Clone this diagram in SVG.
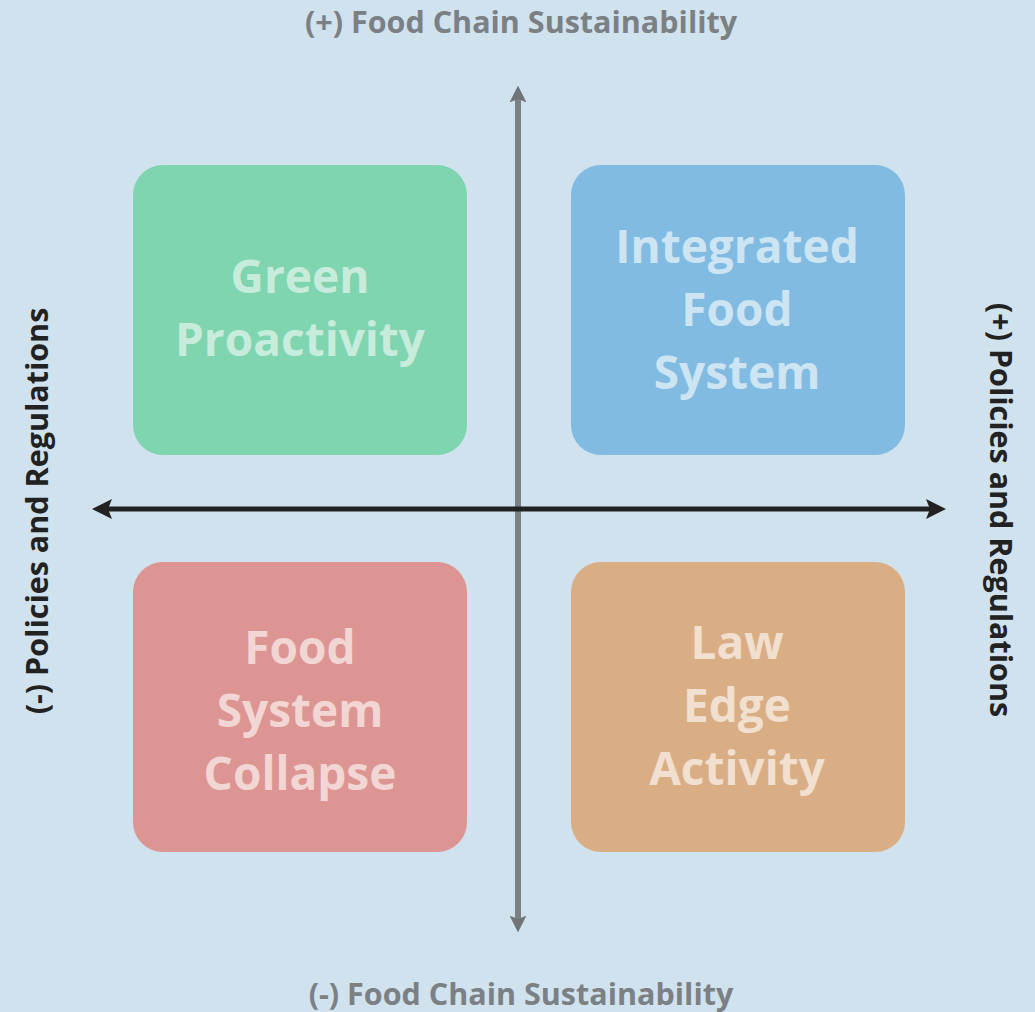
<svg xmlns="http://www.w3.org/2000/svg" width="1035" height="1012" viewBox="0 0 1035 1012">
<style>
.axlbl{font-family:"Open Sans","Noto Sans",sans-serif;font-weight:700;font-size:30.5px;text-anchor:middle}
.gray{fill:#7b8084}
.dark{fill:#222222}
.box{stroke:none}
.btxt{font-family:"Open Sans","Noto Sans",sans-serif;font-weight:700;font-size:46px;text-anchor:middle}
</style>
<defs>
<marker id="ahg" viewBox="0 0 10 10" refX="5" refY="5" markerWidth="2.8" markerHeight="2.8" orient="auto-start-reverse" markerUnits="strokeWidth">
<path d="M0,0 L10,5 L0,10 L2,5 Z" fill="#6f7478"/>
</marker>
<marker id="ahk" viewBox="0 0 10 10" refX="5" refY="5" markerWidth="4" markerHeight="4" orient="auto-start-reverse" markerUnits="strokeWidth">
<path d="M0,0 L10,5 L0,10 L2,5 Z" fill="#222222"/>
</marker>
</defs>
<rect width="1035" height="1012" fill="#d0e2ee"/>
<g id="quadrant-green">
<rect class="box" x="133" y="165" width="334" height="290" rx="30" fill="#7ed5b0"/>
<text class="btxt" fill="#c7ecdc" x="300" y="293">Green</text>
<text class="btxt" fill="#c7ecdc" x="300" y="356">Proactivity</text>
</g>
<g id="quadrant-blue">
<rect class="box" x="571" y="165" width="334" height="290" rx="30" fill="#82bbe1"/>
<text class="btxt" fill="#cde4f3" x="737" y="263">Integrated</text>
<text class="btxt" fill="#cde4f3" x="737" y="326">Food</text>
<text class="btxt" fill="#cde4f3" x="737" y="389">System</text>
</g>
<g id="quadrant-red">
<rect class="box" x="133" y="562" width="334" height="290" rx="30" fill="#dc9592"/>
<text class="btxt" fill="#f2d6d4" x="300" y="664">Food</text>
<text class="btxt" fill="#f2d6d4" x="300" y="727">System</text>
<text class="btxt" fill="#f2d6d4" x="300" y="790">Collapse</text>
</g>
<g id="quadrant-orange">
<rect class="box" x="571" y="562" width="334" height="290" rx="30" fill="#daae85"/>
<text class="btxt" fill="#f1dfcf" x="737" y="659">Law</text>
<text class="btxt" fill="#f1dfcf" x="737" y="722">Edge</text>
<text class="btxt" fill="#f1dfcf" x="737" y="785">Activity</text>
</g>
<g id="connectors">
<line x1="518" y1="94" x2="518" y2="924" stroke="#7b8084" stroke-width="6" marker-start="url(#ahg)" marker-end="url(#ahg)"/>
<line x1="102" y1="509" x2="936" y2="509" stroke="#222222" stroke-width="5" marker-start="url(#ahk)" marker-end="url(#ahk)"/>
</g>
<g id="labels">
<text class="axlbl gray" x="521" y="33">(+) Food Chain Sustainability</text>
<text class="axlbl gray" x="521" y="1005">(-) Food Chain Sustainability</text>
<text class="axlbl dark" transform="translate(48,511) rotate(-90)">(-) Policies and Regulations</text>
<text class="axlbl dark" transform="translate(990,510) rotate(90)">(+) Policies and Regulations</text>
</g>
</svg>
